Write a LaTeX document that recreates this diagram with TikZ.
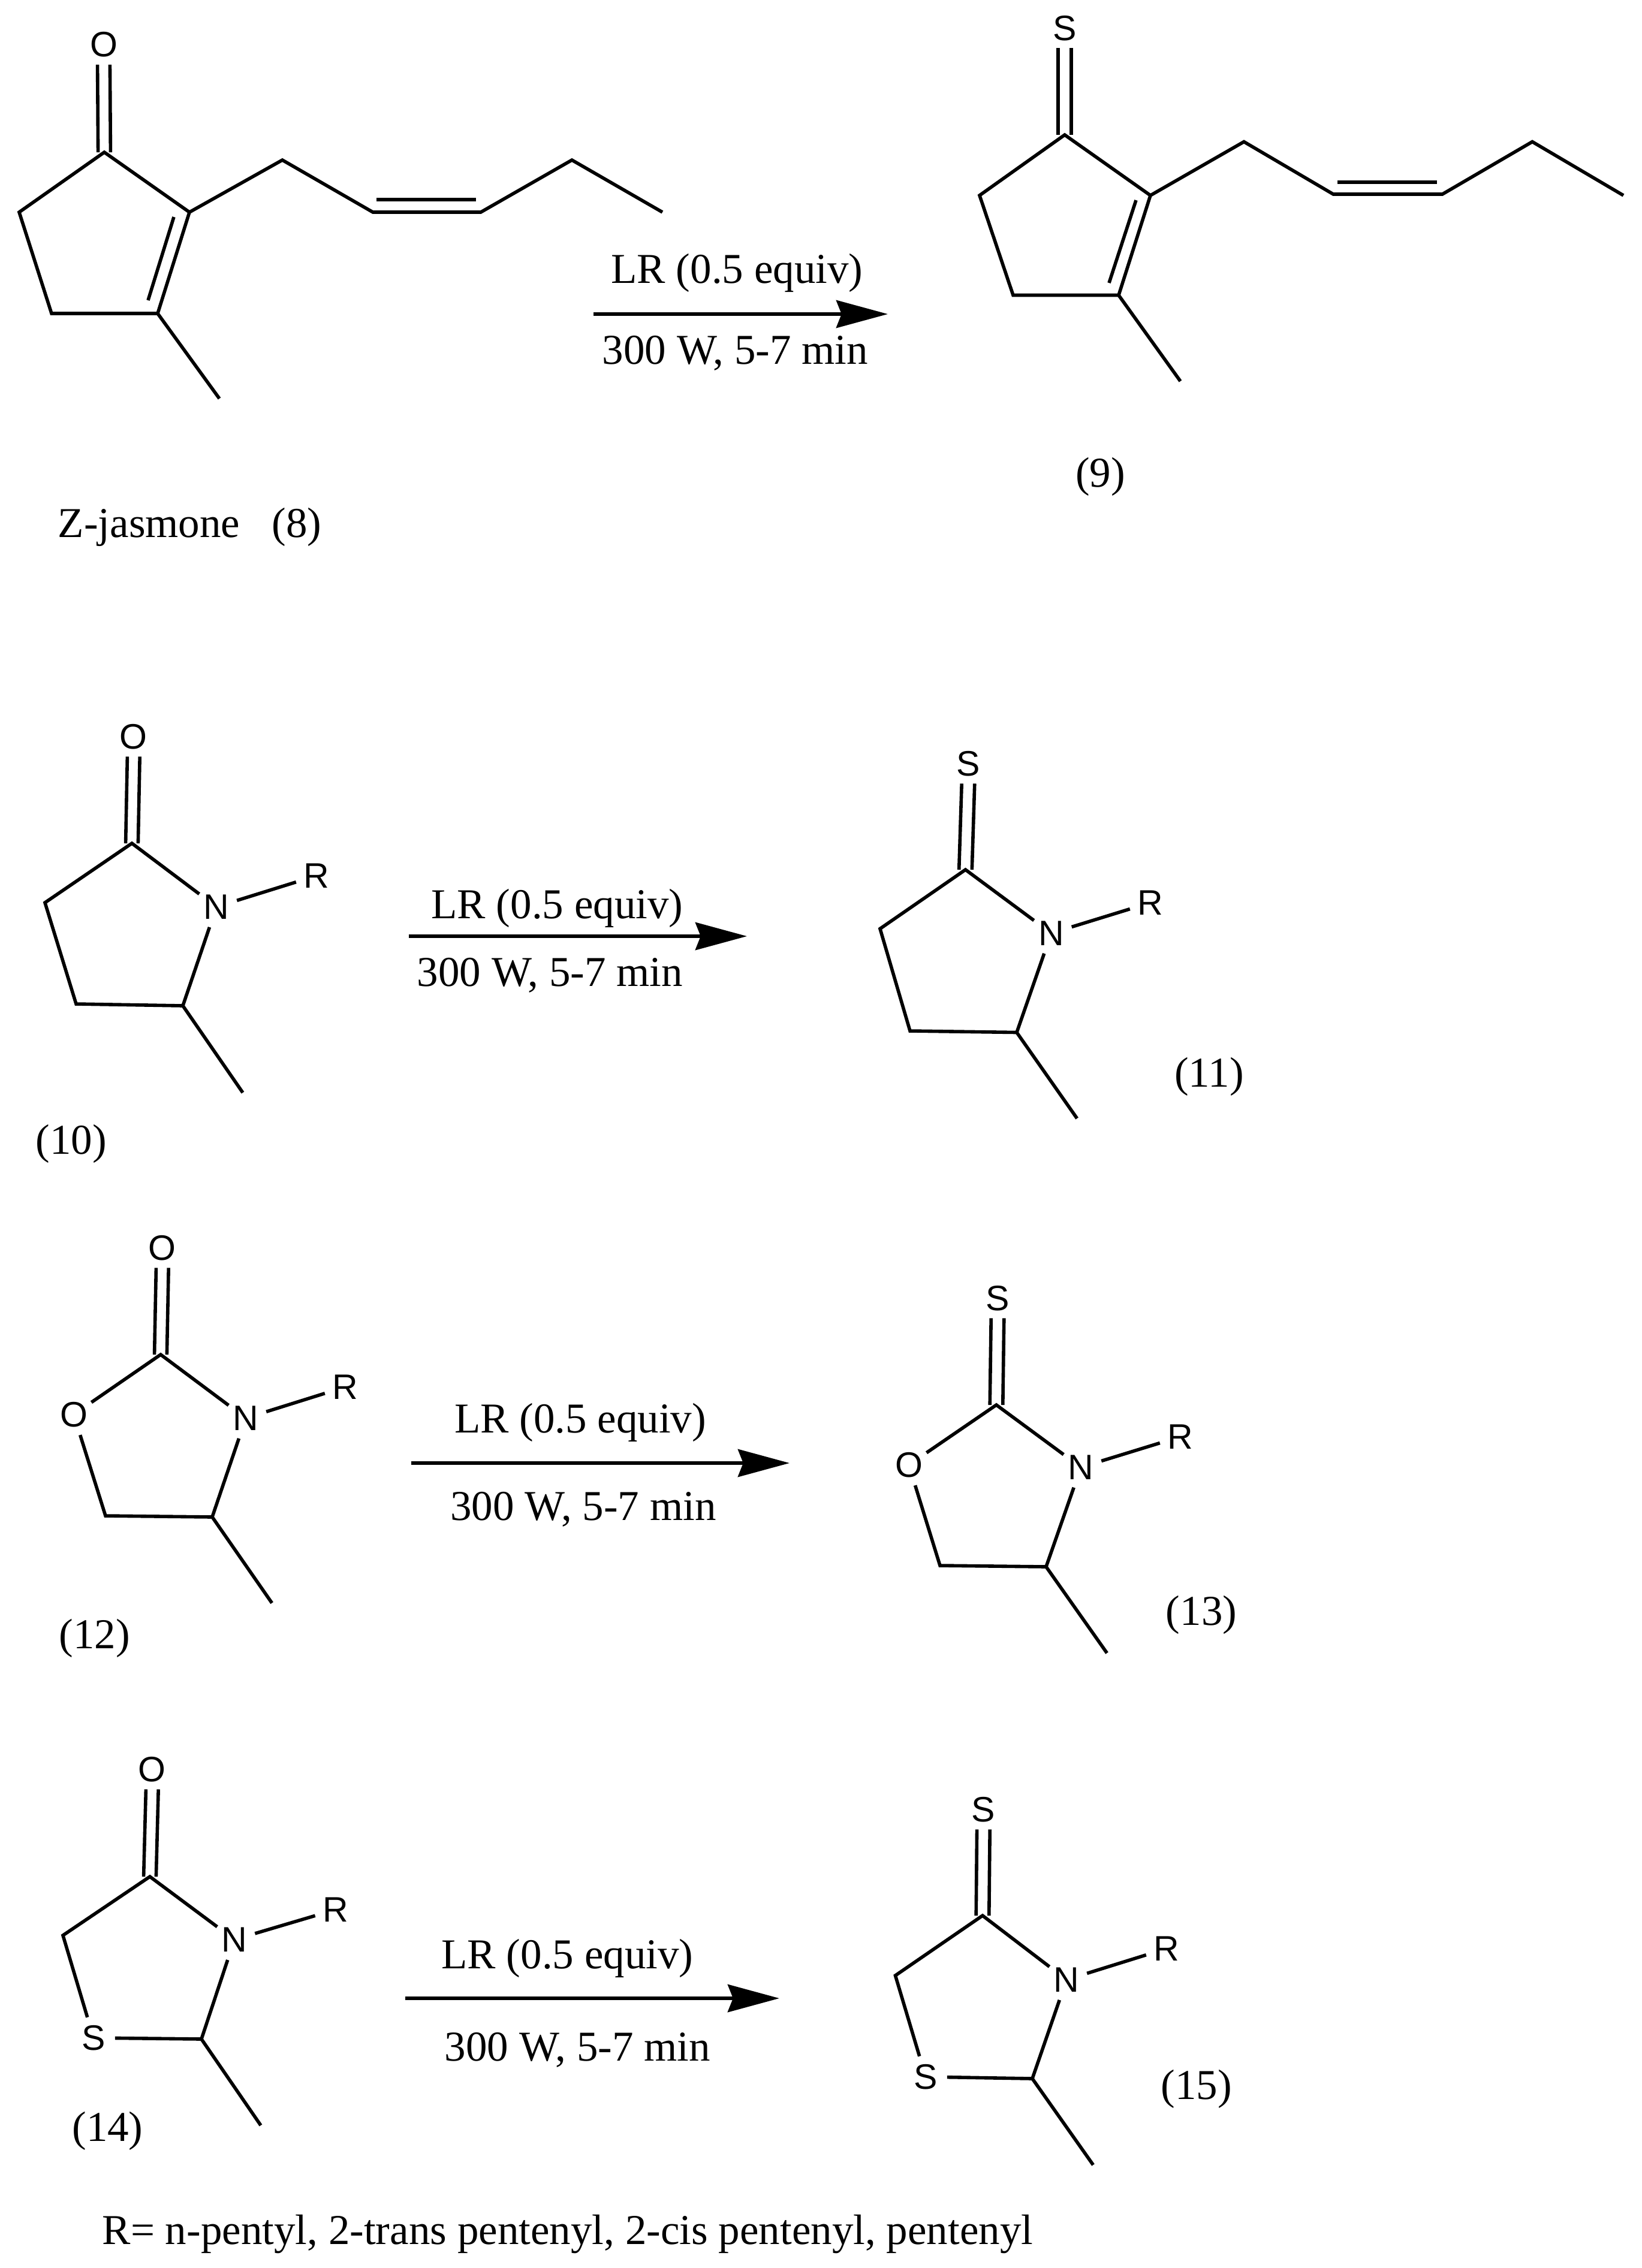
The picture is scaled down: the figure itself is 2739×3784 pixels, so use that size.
\documentclass[tikz,border=0pt]{standalone}
\usepackage{fontspec}
\setmainfont{Liberation Serif}
\newfontfamily\atomfont{Liberation Sans}
\usetikzlibrary{arrows.meta}
\tikzset{
  bond/.style={line width=1.4pt,line join=miter,line cap=butt,black},
  rxn/.style={line width=1.5pt,black,-{Stealth[length=21.5pt,width=11.5pt,inset=2.2pt]}},
  atom/.style={circle,inner sep=0pt,minimum size=17.5pt,font=\atomfont\fontsize{14.75}{15}\selectfont},
  lbl/.style={inner sep=0pt,anchor=base,font=\fontsize{17.75}{20}\selectfont},
}
\begin{document}
\begin{tikzpicture}[x=0.25pt,y=-0.25pt]
\useasboundingbox (0,0) rectangle (2739,3784);
\fill[white] (0,0) rectangle (2739,3784);

% --- Compound 8
\node[atom] (oa) at (173,74.5) {O};
\coordinate (a1) at (174,254);
\coordinate (a2) at (32,354);
\coordinate (a3) at (86,523);
\coordinate (a4) at (263,523);
\coordinate (a5) at (316,354);
\coordinate (a6) at (366,665);
\coordinate (a7) at (471,267);
\coordinate (a8) at (622,354);
\coordinate (a9) at (802,354);
\coordinate (a10) at (954,267);
\coordinate (a11) at (1105,354);
\coordinate (ai1) at (290,362);
\coordinate (ai2) at (247,501);
\coordinate (ai3) at (628,333);
\coordinate (ai4) at (794,333);
\draw[bond] ([xshift=-2.6pt]a1) -- ([xshift=-2.6pt,yshift=0.6pt]oa.south);
\draw[bond] ([xshift=2.6pt]a1) -- ([xshift=2.6pt,yshift=0.6pt]oa.south);
\draw[bond] (a1) -- (a2) -- (a3) -- (a4) -- (a5) -- cycle;
\draw[bond] (a4) -- (a6);
\draw[bond] (a5) -- (a7) -- (a8) -- (a9) -- (a10) -- (a11);
\draw[bond] (ai1) -- (ai2);
\draw[bond] (ai3) -- (ai4);
\node[lbl,anchor=base west] (la) at (96,896) {Z-jasmone\ \ \ (8)};

% --- Reaction 1
\coordinate (ra1) at (990,524);
\coordinate (ra2) at (1481,524);
\draw[rxn] (ra1) -- (ra2);
\node[lbl] (ta1) at (1229.5,472) {LR (0.5 equiv)};
\node[lbl] (ta2) at (1226.5,607) {300 W, 5-7 min};

% --- Compound 9
\node[atom] (sb) at (1776,47) {S};
\coordinate (b1) at (1776,225);
\coordinate (b2) at (1634,326);
\coordinate (b3) at (1690,492.5);
\coordinate (b4) at (1866,492.5);
\coordinate (b5) at (1919,326);
\coordinate (b6) at (1969,636);
\coordinate (b7) at (2075,236.5);
\coordinate (b8) at (2224,324);
\coordinate (b9) at (2406,324);
\coordinate (b10) at (2556,236.5);
\coordinate (b11) at (2708,326);
\coordinate (bi1) at (1895,334);
\coordinate (bi2) at (1850,472);
\coordinate (bi3) at (2231,304);
\coordinate (bi4) at (2397,304);
\draw[bond] ([xshift=-2.8pt]b1) -- ([xshift=-2.8pt,yshift=0.6pt]sb.south);
\draw[bond] ([xshift=2.8pt]b1) -- ([xshift=2.8pt,yshift=0.6pt]sb.south);
\draw[bond] (b1) -- (b2) -- (b3) -- (b4) -- (b5) -- cycle;
\draw[bond] (b4) -- (b6);
\draw[bond] (b5) -- (b7) -- (b8) -- (b9) -- (b10) -- (b11);
\draw[bond] (bi1) -- (bi2);
\draw[bond] (bi3) -- (bi4);
\node[lbl] (lb) at (1835.5,812) {(9)};

% --- Compound 10
\node[atom] (oc) at (222,1229) {O};
\node[atom] (nc) at (361,1513) {N};
\node[atom] (rc) at (528,1461) {R};
\coordinate (c1) at (220,1407);
\coordinate (c2) at (75,1506);
\coordinate (c3) at (127,1675);
\coordinate (c4) at (305,1678);
\coordinate (c5) at (405,1823);
\draw[bond] ([xshift=-2.6pt]c1) -- ([xshift=-2.4pt,yshift=0.6pt]oc.south);
\draw[bond] ([xshift=2.6pt]c1) -- ([xshift=2.8pt,yshift=0.6pt]oc.south);
\draw[bond] (nc) -- (c1) -- (c2) -- (c3) -- (c4) -- (nc);
\draw[bond] (c4) -- (c5);
\draw[bond] (nc) -- (rc);
\node[lbl] (lc) at (118.5,1925) {(10)};

% --- Reaction 2
\coordinate (rb1) at (682,1562);
\coordinate (rb2) at (1246,1562);
\draw[rxn] (rb1) -- (rb2);
\node[lbl] (tb1) at (929.5,1532) {LR (0.5 equiv)};
\node[lbl] (tb2) at (917.5,1645) {300 W, 5-7 min};

% --- Compound 11
\node[atom] (sd) at (1615,1274) {S};
\node[atom] (nd) at (1753.5,1557) {N};
\node[atom] (rd) at (1919,1506) {R};
\coordinate (d1) at (1610.5,1451);
\coordinate (d2) at (1468,1549.5);
\coordinate (d3) at (1518,1720);
\coordinate (d4) at (1696,1722.5);
\coordinate (d5) at (1796.6,1866);
\draw[bond] ([xshift=-2.7pt]d1) -- ([xshift=-2.7pt,yshift=0.6pt]sd.south);
\draw[bond] ([xshift=2.7pt]d1) -- ([xshift=2.7pt,yshift=0.6pt]sd.south);
\draw[bond] (nd) -- (d1) -- (d2) -- (d3) -- (d4) -- (nd);
\draw[bond] (d4) -- (d5);
\draw[bond] (nd) -- (rd);
\node[lbl] (ld) at (2017,1813) {(11)};

% --- Compound 12
\node[atom] (oe) at (270,2082) {O};
\node[atom] (oer) at (123,2360) {O};
\node[atom] (ne) at (410,2366) {N};
\node[atom] (re) at (576,2314) {R};
\coordinate (e1) at (268,2260);
\coordinate (e3) at (176,2529);
\coordinate (e4) at (354,2531);
\coordinate (e5) at (453.6,2674.5);
\draw[bond] ([xshift=-2.6pt]e1) -- ([xshift=-2.4pt,yshift=0.6pt]oe.south);
\draw[bond] ([xshift=2.6pt]e1) -- ([xshift=2.8pt,yshift=0.6pt]oe.south);
\draw[bond] (ne) -- (e1) -- (oer);
\draw[bond] (oer) -- (e3) -- (e4) -- (ne);
\draw[bond] (e4) -- (e5);
\draw[bond] (ne) -- (re);
\node[lbl] (le) at (158,2750) {(12)};

% --- Reaction 3
\coordinate (rc1) at (686,2441);
\coordinate (rc2) at (1317,2441);
\draw[rxn] (rc1) -- (rc2);
\node[lbl] (tc1) at (968,2390) {LR (0.5 equiv)};
\node[lbl] (tc2) at (973,2536) {300 W, 5-7 min};

% --- Compound 13
\node[atom] (sf) at (1664,2166) {S};
\node[atom] (of) at (1516,2444) {O};
\node[atom] (nf) at (1803,2448) {N};
\node[atom] (rf) at (1969,2397) {R};
\coordinate (f1) at (1662,2344);
\coordinate (f3) at (1568,2612);
\coordinate (f4) at (1745,2614);
\coordinate (f5) at (1846.5,2758);
\draw[bond] ([xshift=-2.7pt]f1) -- ([xshift=-2.7pt,yshift=0.6pt]sf.south);
\draw[bond] ([xshift=2.7pt]f1) -- ([xshift=2.7pt,yshift=0.6pt]sf.south);
\draw[bond] (nf) -- (f1) -- (of);
\draw[bond] (of) -- (f3) -- (f4) -- (nf);
\draw[bond] (f4) -- (f5);
\draw[bond] (nf) -- (rf);
\node[lbl] (lf) at (2004,2711) {(13)};

% --- Compound 14
\node[atom] (og) at (253,2952) {O};
\node[atom] (sg) at (156,3400) {S};
\node[atom] (ng) at (391,3236) {N};
\node[atom] (rg) at (560,3186) {R};
\coordinate (g1) at (250,3131);
\coordinate (g2) at (105,3229);
\coordinate (g4) at (336,3402);
\coordinate (g5) at (435,3546);
\draw[bond] ([xshift=-2.6pt]g1) -- ([xshift=-2.4pt,yshift=0.6pt]og.south);
\draw[bond] ([xshift=2.6pt]g1) -- ([xshift=2.8pt,yshift=0.6pt]og.south);
\draw[bond] (ng) -- (g1) -- (g2) -- (sg);
\draw[bond] (sg) -- (g4) -- (ng);
\draw[bond] (g4) -- (g5);
\draw[bond] (ng) -- (rg);
\node[lbl] (lg) at (179.5,3572) {(14)};

% --- Reaction 4
\coordinate (rd1) at (676,3334);
\coordinate (rd2) at (1300,3334);
\draw[rxn] (rd1) -- (rd2);
\node[lbl] (td1) at (946.5,3284) {LR (0.5 equiv)};
\node[lbl] (td2) at (963.5,3438) {300 W, 5-7 min};

% --- Compound 15
\node[atom] (sh) at (1640,3019) {S};
\node[atom] (shr) at (1544,3465) {S};
\node[atom] (nh) at (1779,3303) {N};
\node[atom] (rh) at (1946,3251) {R};
\coordinate (h1) at (1639,3196);
\coordinate (h2) at (1493.5,3296);
\coordinate (h4) at (1722,3468);
\coordinate (h5) at (1823.5,3612);
\draw[bond] ([xshift=-2.7pt]h1) -- ([xshift=-2.6pt,yshift=0.6pt]sh.south);
\draw[bond] ([xshift=2.7pt]h1) -- ([xshift=2.8pt,yshift=0.6pt]sh.south);
\draw[bond] (nh) -- (h1) -- (h2) -- (shr);
\draw[bond] (shr) -- (h4) -- (nh);
\draw[bond] (h4) -- (h5);
\draw[bond] (nh) -- (rh);
\node[lbl] (lh) at (1995.5,3502) {(15)};

% --- Footnote
\node[lbl,anchor=base west] (fn) at (170,3744) {R= n-pentyl, 2-trans pentenyl, 2-cis pentenyl, pentenyl};
\end{tikzpicture}
\end{document}
